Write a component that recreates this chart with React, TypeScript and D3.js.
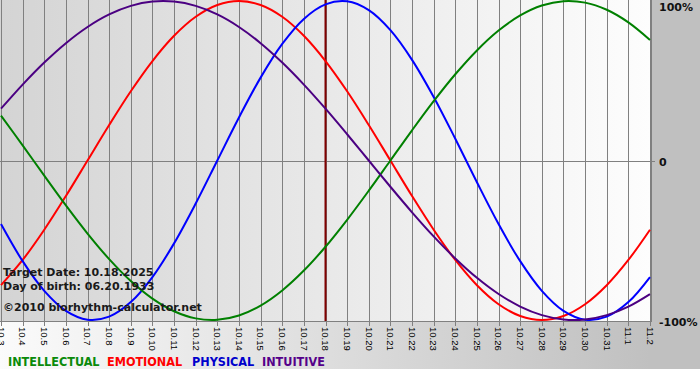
import React, { useEffect } from 'react';
import * as d3 from 'd3';

const dates = [
  "10.3", "10.4", "10.5", "10.6", "10.7", "10.8", "10.9", "10.10", "10.11", "10.12",
  "10.13", "10.14", "10.15", "10.16", "10.17", "10.18", "10.19", "10.20", "10.21", "10.22",
  "10.23", "10.24", "10.25", "10.26", "10.27", "10.28", "10.29", "10.30", "10.31", "11.1", "11.2",
];

const intellectual = [
  0.2817, 0.0951, -0.0951, -0.2817, -0.4582, -0.6182, -0.7557, -0.866, -0.945, -0.9898,
  -0.9989, -0.9718, -0.9096, -0.8146, -0.6901, -0.5406, -0.3717, -0.1893, 0, 0.1893,
  0.3717, 0.5406, 0.6901, 0.8146, 0.9096, 0.9718, 0.9989, 0.9898, 0.945, 0.866, 0.7557,
];

const emotional = [
  -0.7818, -0.6235, -0.4339, -0.2225, 0, 0.2225, 0.4339, 0.6235, 0.7818, 0.901,
  0.9749, 1, 0.9749, 0.901, 0.7818, 0.6235, 0.4339, 0.2225, 0, -0.2225,
  -0.4339, -0.6235, -0.7818, -0.901, -0.9749, -1, -0.9749, -0.901, -0.7818, -0.6235, -0.4339,
];

const physical = [
  -0.3984, -0.6311, -0.817, -0.9423, -0.9977, -0.9791, -0.8879, -0.7308, -0.5196, -0.2698,
  0, 0.2698, 0.5196, 0.7308, 0.8879, 0.9791, 0.9977, 0.9423, 0.817, 0.6311,
  0.3984, 0.1362, -0.1362, -0.3984, -0.6311, -0.817, -0.9423, -0.9977, -0.9791, -0.8879, -0.7308,
];

const intuitive = [
  0.3247, 0.4759, 0.6142, 0.7357, 0.8372, 0.9158, 0.9694, 0.9966, 0.9966, 0.9694,
  0.9158, 0.8372, 0.7357, 0.6142, 0.4759, 0.3247, 0.1646, 0, -0.1646, -0.3247,
  -0.4759, -0.6142, -0.7357, -0.8372, -0.9158, -0.9694, -0.9966, -0.9966, -0.9694, -0.9158, -0.8372,
];

const yTicks = [1, 0, -1];
const yTickLabels = ["100%", "0", "-100%"];
const targetIndex = 15;
const infoLines = ["Target Date: 10.18.2025", "Day of birth: 06.20.1933", "\u00a92010 biorhythm-calculator.net"];
const legendNames = ["INTELLECTUAL", "EMOTIONAL", "PHYSICAL", "INTUITIVE"];

export default function App() {
  useEffect(() => {
    document.body.style.margin = '0';
  }, []);

  const W = 700, H = 380;
  const plotRight = 651;
  const plotBottom = 321;
  const x = d3.scaleLinear().domain([0, dates.length - 1]).range([1, 650]);
  const y = d3.scaleLinear().domain([-1, 1]).range([320, 1]);

  const line = d3.line<number>()
    .x((_, i) => x(i))
    .y((d) => y(d))
    .curve(d3.curveCatmullRom.alpha(0.5));

  const series = [
    { values: emotional, color: '#ff0000' },
    { values: physical, color: '#0000ff' },
    { values: intellectual, color: '#008000' },
    { values: intuitive, color: '#4b0082' },
  ];

  const legendColors = ['#0a8a0a', '#ff0000', '#0000cc', '#55008a'];
  const legendX = [8, 107, 192, 262];
  const infoY = [276, 290, 310.5];

  return (
    <svg width={W} height={H} style={{ display: 'block', position: 'absolute', left: 0, top: 0 }}>
      <defs>
        <linearGradient id="outerBg" x1="0" y1="0" x2="650" y2="0" gradientUnits="userSpaceOnUse">
          <stop offset="0" stopColor="#fbfbfb" />
          <stop offset="1" stopColor="#c0c0c0" />
        </linearGradient>
        <linearGradient id="plotBg" x1="0" y1="0" x2="650" y2="0" gradientUnits="userSpaceOnUse">
          <stop offset="0" stopColor="#d4d4d4" />
          <stop offset="1" stopColor="#fdfdfd" />
        </linearGradient>
        <clipPath id="plotClip">
          <rect x={0} y={0} width={plotRight + 1} height={plotBottom + 1} />
        </clipPath>
      </defs>
      <rect x={0} y={0} width={W} height={H} fill="#ffffff" />
      <rect x={0} y={0} width={W} height={369} fill="url(#outerBg)" />
      <rect x={0} y={0} width={plotRight} height={plotBottom} fill="url(#plotBg)" />

      {dates.map((d, i) => (
        <line key={'g' + i} x1={Math.round(x(i)) + 0.5} x2={Math.round(x(i)) + 0.5} y1={0} y2={plotBottom + 5}
          stroke="#808080" strokeWidth={1} shapeRendering="crispEdges" />
      ))}
      <line x1={0} x2={plotRight + 4} y1={Math.round(y(0)) + 0.5} y2={Math.round(y(0)) + 0.5} stroke="#808080" shapeRendering="crispEdges" />
      <line x1={0} x2={plotRight + 1} y1={plotBottom + 0.5} y2={plotBottom + 0.5} stroke="#808080" shapeRendering="crispEdges" />
      <line x1={plotRight + 0.5} x2={plotRight + 0.5} y1={0} y2={plotBottom} stroke="#808080" shapeRendering="crispEdges" />

      <line x1={x(targetIndex)} x2={x(targetIndex)} y1={0} y2={plotBottom} stroke="#800000" strokeWidth={2} />

      <g clipPath="url(#plotClip)">
        {series.map((s, k) => (
          <path key={k} d={line(s.values) || ''} fill="none" stroke={s.color} strokeWidth={2} />
        ))}
      </g>

      {dates.map((d, i) => (
        <text key={'t' + i} transform={`translate(${x(i) - 3.2},${plotBottom + 6}) rotate(90)`}
          fontFamily="'Liberation Sans', Arial, sans-serif" fontSize={9.5} fill="#000">{d}</text>
      ))}

      {yTicks.map((v, i) => (
        <text key={'y' + i} x={659} y={Math.max(y(v) + 5.5, 11)} fontFamily="'DejaVu Sans', Verdana, sans-serif"
          fontWeight="bold" fontSize={11} fill="#111">{yTickLabels[i]}</text>
      ))}

      {infoLines.map((t, i) => (
        <text key={'i' + i} x={3} y={infoY[i]} fontFamily="'DejaVu Sans', Verdana, sans-serif" fontWeight="bold"
          fontSize={11} fill="#1a1a1a">{t}</text>
      ))}

      {legendNames.map((n, i) => (
        <text key={'l' + i} x={legendX[i]} y={366} fontFamily="'DejaVu Sans Condensed', 'DejaVu Sans', sans-serif"
          fontStretch="condensed" fontWeight="bold" fontSize={12.5} fill={legendColors[i]}>{n}</text>
      ))}
    </svg>
  );
}
